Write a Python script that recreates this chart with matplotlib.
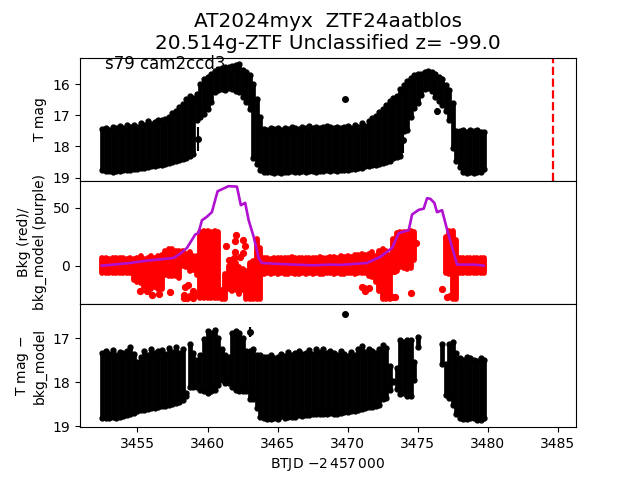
#!/usr/bin/env python3
import numpy as np
import matplotlib
matplotlib.use('Agg')
import matplotlib.pyplot as plt

nan = float('nan')

btjd = [3452.5, 3452.75, 3453.0, 3453.25, 3453.5, 3453.75, 3454.0, 3454.25, 3454.5, 3454.75,
        3455.0, 3455.25, 3455.5, 3455.75, 3456.0, 3456.25, 3456.5, 3456.75,
        3457.0, 3457.25, 3457.5, 3457.75, 3458.0, 3458.25, 3458.5, 3458.75,
        3459.0, 3459.25, 3459.5, 3459.75, 3460.0, 3460.25, 3460.5, 3460.75,
        3461.0, 3461.25, 3461.5, 3461.75, 3462.0, 3462.25, 3462.5, 3462.75,
        3463.0, 3463.25, 3463.5, 3463.75, 3464.0, 3464.25, 3464.5, 3464.75,
        3465.0, 3465.25, 3465.5, 3465.75, 3466.0, 3466.25, 3466.5, 3466.75,
        3467.0, 3467.25, 3467.5, 3467.75, 3468.0, 3468.25, 3468.5, 3468.75,
        3469.0, 3469.25, 3469.5, 3469.75, 3470.0, 3470.25, 3470.5, 3470.75,
        3471.0, 3471.25, 3471.5, 3471.75, 3472.0, 3472.25, 3472.5, 3472.75,
        3473.0, 3473.25, 3473.5, 3473.75, 3474.0, 3474.25, 3474.5, 3474.75,
        3475.0, 3475.25, 3475.5, 3475.75, 3476.0, 3476.25, 3476.5, 3476.75,
        3477.0, 3477.25, 3477.5, 3477.75, 3478.0, 3478.25, 3478.5, 3478.75,
        3479.0, 3479.25, 3479.5, 3479.75]

# T mag, bright and faint edge of the error bars
tmag_hi = [17.45, 17.40, 17.46, 17.38, 17.42, 17.34, 17.40, 17.32, 17.38, 17.30,
           17.37, 17.26, 17.32, 17.19, 17.28, 17.22, 17.16, 17.14,
           17.12, 17.06, 16.94, 16.86, 16.74, 16.64, 16.49, 16.39,
           16.44, 16.32, 15.99, 15.84, 15.76, 15.66, 15.59, 15.52,
           15.49, 15.46, 15.44, 15.42, 15.40, 15.37, 15.54, 15.62,
           15.72, 15.99, 16.49, 17.04, 17.44, 17.46, 17.42, 17.44,
           17.42, 17.46, 17.40, 17.44, 17.38, 17.42, 17.44, 17.37,
           17.42, 17.34, 17.42, 17.36, 17.40, 17.38, 17.34, 17.38,
           17.40, 17.37, 17.42, 17.38, 17.34, 17.40, 17.30, 17.36,
           17.26, 17.34, 17.18, 17.09, 17.02, 16.89, 16.79, 16.66,
           16.54, 16.46, 16.39, 16.16, 16.02, 15.89, 15.82, 15.72,
           15.69, 15.66, 15.60, 15.59, 15.62, 15.68, 15.76, 15.84,
           16.02, 16.18, 16.59, 17.49, 17.50, 17.46, 17.52, 17.48,
           17.50, 17.46, 17.52, 17.54]
tmag_lo = [18.76, 18.80, 18.78, 18.81, 18.79, 18.78, 18.76, 18.75, 18.74, 18.72,
           18.72, 18.69, 18.68, 18.66, 18.64, 18.62, 18.59, 18.58,
           18.56, 18.53, 18.51, 18.48, 18.44, 18.40, 18.36, 18.32,
           18.24, 17.16, 17.06, 16.96, 16.81, 16.56, 16.26, 16.18,
           16.16, 16.18, 16.14, 16.16, 16.21, 16.26, 16.41, 16.56,
           16.81, 18.36, 18.56, 18.74, 18.81, 18.83, 18.81, 18.84,
           18.82, 18.84, 18.82, 18.83, 18.80, 18.82, 18.81, 18.80,
           18.82, 18.78, 18.80, 18.81, 18.78, 18.80, 18.76, 18.78,
           18.76, 18.78, 18.76, 18.74, 18.76, 18.72, 18.73, 18.70,
           18.68, 18.64, 18.62, 18.60, 18.58, 18.56, 18.54, 18.51,
           18.46, 18.38, 18.34, 18.31, 17.51, 17.46, 17.06, 16.76,
           16.61, 16.36, 16.16, 16.11, 16.21, 16.41, 16.54, 16.66,
           16.86, 17.16, 18.06, 18.46, 18.66, 18.81, 18.84, 18.83,
           18.84, 18.83, 18.81, 18.71]
tmag_extra_x = [3459.3, 3469.8, 3473.97, 3476.4]
tmag_extra_y = [17.75, 16.48, 17.80, 16.87]
tmag_extra_err = [0.38, 0.05, 0.40, 0.12]

# background columns, upper and lower edge
bkg_hi = [6.2, 6.5, 6.0, 6.6, 7.0, 6.2, 6.5, 6.0, 6.6, 6.0,
          7, 8, 6, 7, 8, 7, 8, 9,
          13, 14, 14, 13, 13, 13, 10, 12,
          8, 8, 29, 30, 30, 29, 30, 29,
          -21, -7, 0, 3, 2, -1, -3, -5,
          2, 4, 23, 15, 6.5, 7.0, 6.0, 6.8,
          6.5, 7.0, 6.2, 6.5, 7.2, 6.4, 6.8, 6.5,
          6.2, 7.0, 6.5, 6.8, 7.4, 6.5, 7.0, 7.2,
          7.5, 6.8, 8.0, 7.2, 8.2, 7.5, 9.0, 9.5,
          10, 9, 10, 12, 8, 13, 14, 13,
          9, 23, 28, 29, 29, 29, 30, 29,
          nan, nan, nan, nan, nan, nan, nan, nan,
          25, 30, 30, 22, 6.5, 6.8, 6.5, 6.8,
          6.5, 6.8, 6.6, 6.2]
bkg_lo = [-6.0, -6.3, -6.5, -6.0, -6.5, -6.2, -6.0, -6.4, -6.2, -12,
          -14, -15, -18, -20, -20, -18, -20, -20,
          -8, -9, -9, -9, -11, 0, -1, -5,
          -4, -8, -28, -28, -28, -28, -28, -28,
          -29, -29, -20, -22, -21, -24, -21, -29,
          -29, -29, -29, -29, -7, -6.5, -7.0, -6.5,
          -7.0, -6.5, -6.8, -7.2, -6.5, -6.8, -7.0, -6.4,
          -6.8, -6.5, -7.0, -6.2, -6.8, -7.0, -6.5, -6.6,
          -7.0, -6.5, -6.8, -7.2, -6.4, -6.5, -6.8, -6.0,
          -6.5, -6.0, -9, -10, -14, -22, -29, -29,
          -29, -1, -5, -1, -2, -3, -2, 5,
          nan, nan, nan, nan, nan, nan, nan, nan,
          -6, -7, -29, -29, -6, -6.5, -6.2, -6.5,
          -6.2, -6.4, -6.5, -6.0]
bkg_extra_x = [3455.19, 3455.67, 3456.57, 3457.34, 3456.03, 3458.29, 3458.53, 3458.76, 3459.0,
               3458.41, 3459.12, 3458.64, 3458.95, 3458.3, 3461.29, 3462.05, 3461.98, 3462.5,
               3462.69, 3461.98, 3462.5, 3462.29, 3461.91, 3461.5, 3474.5, 3474.9, 3476.74,
               3473.29, 3471.03, 3471.26, 3471.5, 3471.14, 3473.4, 3473.17, 3477.1, 3477.33]
bkg_extra_y = [-21.6, -22, -24.4, -23, -25, -25, -28, -26.4, -22,
               -18, -25, -16.4, -28, -28, 17, 26.7, 21.6, 22.4,
               16.7, 11.5, 11, 7.5, 6.6, 5, -23.6, 19.5, -20,
               -5, -18, -22, -19, -19, -27, -27, -27, -26.4]

model_x = [3452.45, 3453.29, 3454.48, 3455.67, 3456.86, 3457.57, 3458.05, 3458.53, 3459.12,
           3459.36, 3459.6, 3459.95, 3460.31, 3460.72, 3461.15, 3461.5, 3462.1, 3462.38,
           3462.69, 3462.93, 3463.29, 3463.65, 3463.88, 3464.72, 3466.15, 3467.57, 3468.76,
           3469.48, 3471.38, 3472.33, 3473.17, 3473.65, 3474.36, 3474.6, 3475.07, 3475.43,
           3475.67, 3475.9, 3476.19, 3476.38, 3476.74, 3477.1, 3477.81, 3479.0, 3479.7]
model_y = [0, 0.9, 2.3, 4.3, 5.7, 6.6, 10.3, 15.2, 26.7,
           28.2, 39, 42, 46, 64, 66.4, 68.4, 68, 52,
           54, 39.4, 25, 6.6, 2.3, 1.7, 0.9, 0.3, 0.9,
           0.6, 2.3, 7.5, 15.2, 28, 30.5, 44, 48, 49,
           58, 57.5, 54, 46, 47.7, 31, 0.9, 0.9, 0]

# T mag minus background model
corr_hi = [17.35, 17.29, 17.37, 17.28, 17.39, 17.32, 17.34, 17.30, 17.20, 17.36,
           17.54, 17.42, 17.29, 17.39, 17.26, 17.34, 17.30, 17.28,
           17.36, 17.22, 17.32, 17.20, 17.34, 17.26, 18.24, 17.14,
           17.34, 17.49, 17.39, 17.02, 16.84, 16.89, 16.82, 16.99,
           17.24, 17.39, 17.44, 16.89, 16.84, 16.89, 16.99, 17.29,
           17.29, 17.26, 17.39, 17.39, 17.42, 17.44, 17.39, 17.46,
           17.42, 17.36, 17.40, 17.32, 17.38, 17.34, 17.30, 17.37,
           17.34, 17.28, 17.36, 17.24, 17.32, 17.26, 17.34, 17.29,
           17.34, 17.39, 17.30, 17.36, 17.40, 17.32, 17.38, 17.26,
           17.19, 17.32, 17.26, 17.30, 17.34, 17.24, 17.16, 17.22,
           17.64, 17.97, 17.69, 17.04, 17.09, 17.04, 17.04, 17.54,
           16.97, nan, nan, nan, nan, nan, nan, 17.14,
           17.59, 17.14, 17.09, 17.34, 17.46, 17.49, 17.44, 17.46,
           17.49, 17.52, 17.46, 17.49]
corr_lo = [18.81, 18.81, 18.81, 18.80, 18.81, 18.80, 18.76, 18.74, 18.72, 18.70,
           18.66, 18.64, 18.62, 18.61, 18.59, 18.58, 18.56, 18.55,
           18.54, 18.52, 18.50, 18.48, 18.46, 18.41, 18.31, 18.11,
           18.11, 18.11, 18.18, 18.21, 18.24, 18.21, 18.18, 18.06,
           17.96, 18.01, 18.01, 18.11, 18.18, 18.21, 18.21, 18.21,
           18.38, 18.38, 18.58, 18.78, 18.81, 18.83, 18.83, 18.82,
           18.83, 18.76, 18.82, 18.80, 18.78, 18.78, 18.74, 18.76,
           18.74, 18.74, 18.73, 18.72, 18.72, 18.71, 18.71, 18.70,
           18.72, 18.71, 18.69, 18.68, 18.67, 18.66, 18.66, 18.64,
           18.60, 18.58, 18.56, 18.56, 18.54, 18.52, 18.38, 18.36,
           18.18, 18.00, 18.16, 18.26, 18.24, 18.31, 18.31, 17.96,
           17.21, nan, nan, nan, nan, nan, nan, 17.58,
           18.29, 18.36, 18.51, 18.71, 18.81, 18.84, 18.84, 18.81,
           18.82, 18.85, 18.86, 18.81]
corr_extra_x = [3463.0, 3469.8]
corr_extra_y = [16.87, 16.45]
corr_extra_err = [0.11, 0.05]

title = 'AT2024myx  ZTF24aatblos\n20.514g-ZTF Unclassified z= -99.0'
vline_x = 3484.65


def bars(ax, x, hi, lo):
    x = np.array(x)
    hi = np.array(hi)
    lo = np.array(lo)
    mid = (hi + lo) / 2
    ax.errorbar(x, mid, yerr=(lo - hi) / 2, fmt='none', ecolor='k', elinewidth=3.4)
    # round off the ends a bit, like the markers in the stack
    ax.plot(x, hi, 'o', color='k', ms=3.5)
    ax.plot(x, lo, 'o', color='k', ms=3.5)


fig, axes = plt.subplots(3, 1, sharex=True, figsize=(6.4, 4.8), dpi=100)
fig.subplots_adjust(hspace=0)
ax1, ax2, ax3 = axes

bars(ax1, btjd, tmag_hi, tmag_lo)
ax1.errorbar(tmag_extra_x, tmag_extra_y, yerr=tmag_extra_err, fmt='o', color='k', ms=4, elinewidth=1.5)
ax1.axvline(vline_x, color='r', linestyle='--', linewidth=1.6)
ax1.set_ylim(19.1, 15.15)
ax1.set_yticks([16, 17, 18, 19])
ax1.set_ylabel('T mag')
ax1.set_title(title, fontsize=14.4)
ax1.text(0.05, 0.905, 's79 cam2ccd3', transform=ax1.transAxes, fontsize=12)

ax2.vlines(btjd, bkg_lo, bkg_hi, color='r', linewidth=4.2, capstyle='round')
ax2.plot(bkg_extra_x, bkg_extra_y, 'o', color='r', ms=4.2)
ax2.plot(model_x, model_y, color='#b010d0', linewidth=1.9)
ax2.set_ylim(-33, 73)
ax2.set_yticks([0, 50])
ax2.set_ylabel('Bkg (red)/\nbkg_model (purple)')

bars(ax3, btjd, corr_hi, corr_lo)
ax3.errorbar(corr_extra_x, corr_extra_y, yerr=corr_extra_err, fmt='o', color='k', ms=4, elinewidth=1.5)
ax3.set_ylim(19.02, 16.23)
ax3.set_yticks([17, 18, 19])
ax3.set_ylabel('T mag $-$\nbkg_model')
ax3.set_xlabel('BTJD $-2\\,457\\,000$')
ax3.set_xlim(3450.9, 3486.3)
ax3.set_xticks([3455, 3460, 3465, 3470, 3475, 3480, 3485])

for ax in (ax1, ax2):
    ax.tick_params(axis='x', length=0)

fig.savefig('out.png', dpi=100)
